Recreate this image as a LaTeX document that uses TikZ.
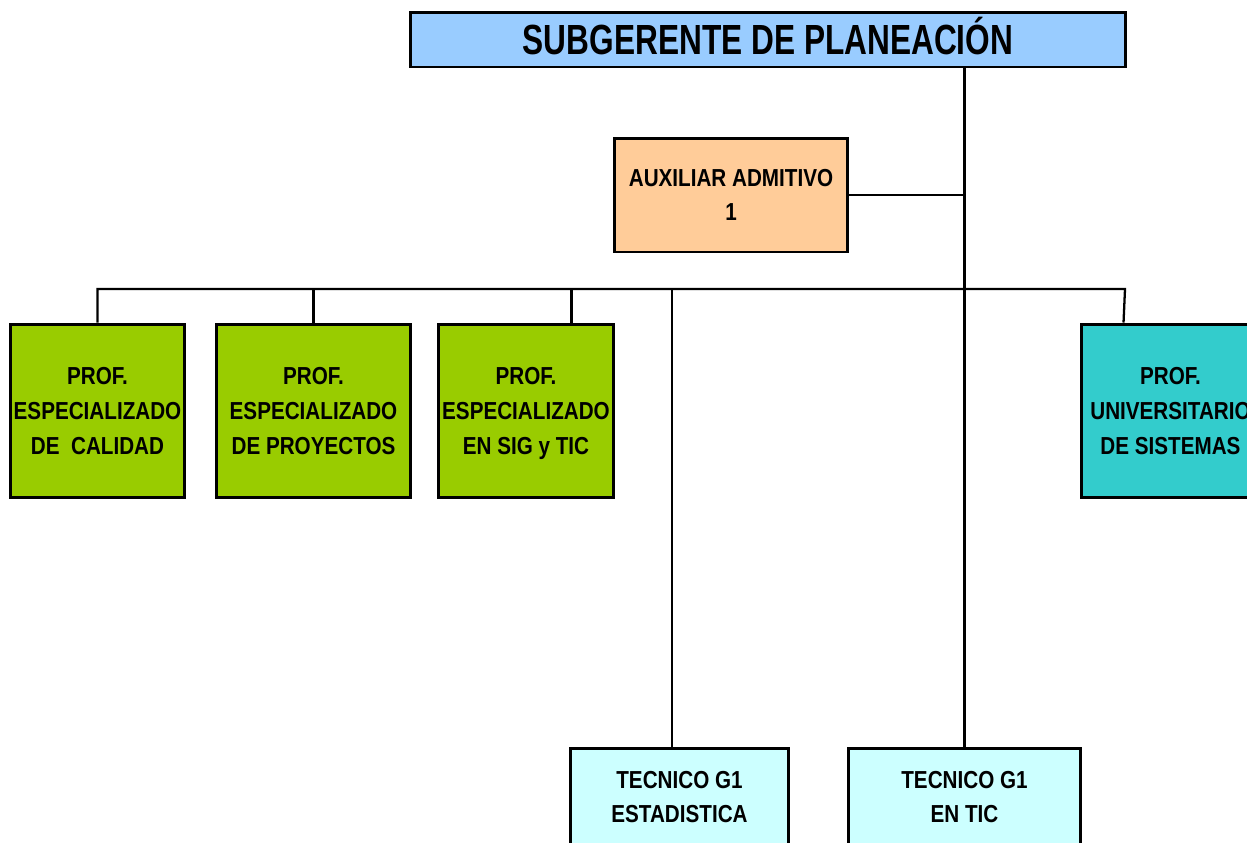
\documentclass[tikz,border=0pt]{standalone}
\usepackage{fontspec}
\setmainfont{Liberation Sans}[FakeStretch=0.84]
\newfontfamily\titulo{Liberation Sans}[FakeStretch=0.75]
\usepackage{tikz}

\definecolor{azulcargo}{HTML}{99CCFF}
\definecolor{naranjacargo}{HTML}{FFCC99}
\definecolor{verdecargo}{HTML}{99CC00}
\definecolor{turquesacargo}{HTML}{33CCCC}
\definecolor{celestecargo}{HTML}{CCFFFF}

\tikzset{
  cargo/.style={draw=black, line width=1.7pt, align=center, inner sep=0pt,
    font=\fontsize{14}{19.8}\selectfont\bfseries, text depth=0pt},
  linea/.style={line width=1.3pt}
}

\begin{document}
\begin{tikzpicture}[x=0.02cm, y=-0.02cm]

%area visible
\clip (0,0) rectangle (1247,842);

%jefe
\node[cargo, fill=azulcargo, minimum width=14.32cm, minimum height=1.1cm,
  font=\titulo\fontsize{24}{28}\selectfont\bfseries, text height=17.2pt] (jefe) at (768,39.5) {SUBGERENTE DE PLANEACIÓN};

%asistencia
\node[cargo, fill=naranjacargo, minimum width=4.68cm, minimum height=2.28cm] (aux) at (731,195) {AUXILIAR ADMITIVO\\1};

%profesionales
\node[cargo, fill=verdecargo, minimum width=3.5cm, minimum height=3.48cm] (cal) at (97.5,411) {PROF.\\ESPECIALIZADO\\DE~~CALIDAD};
\node[cargo, fill=verdecargo, minimum width=3.9cm, minimum height=3.48cm] (proy) at (313.5,411) {PROF.\\ESPECIALIZADO\\DE PROYECTOS};
\node[cargo, fill=verdecargo, minimum width=3.52cm, minimum height=3.48cm] (sig) at (526,411) {PROF.\\ESPECIALIZADO\\EN SIG y TIC};
\node[cargo, fill=turquesacargo, minimum width=3.58cm, minimum height=3.48cm] (sis) at (1170.5,411) {PROF.\\UNIVERSITARIO\\DE SISTEMAS};

%tecnicos
\node[cargo, fill=celestecargo, minimum width=4.38cm, minimum height=1.96cm] (est) at (679.5,797) {TECNICO G1\\ESTADISTICA};
\node[cargo, fill=celestecargo, minimum width=4.66cm, minimum height=1.96cm] (tic) at (964.5,797) {TECNICO G1\\EN TIC};

%conexiones
\coordinate (busL) at (97.5,289);
\coordinate (busR) at (1125,289);
\draw[linea] (jefe.south -| tic.north) -- (tic.north);
\draw[linea] (aux.east) -- (aux.east -| tic.north);
\draw[linea] (cal.north) -- (cal.north |- busL) -- (busR) -- ([xshift=0.88cm]sis.north west);
\draw[linea] (proy.north) -- (proy.north |- busL);
\draw[linea] ([xshift=-0.88cm]sig.north east) -- ([xshift=-0.88cm]sig.north east |- busL);
\draw[linea] ([xshift=-0.15cm]est.north) -- ([xshift=-0.15cm]est.north |- busL);
\end{tikzpicture}
\end{document}
